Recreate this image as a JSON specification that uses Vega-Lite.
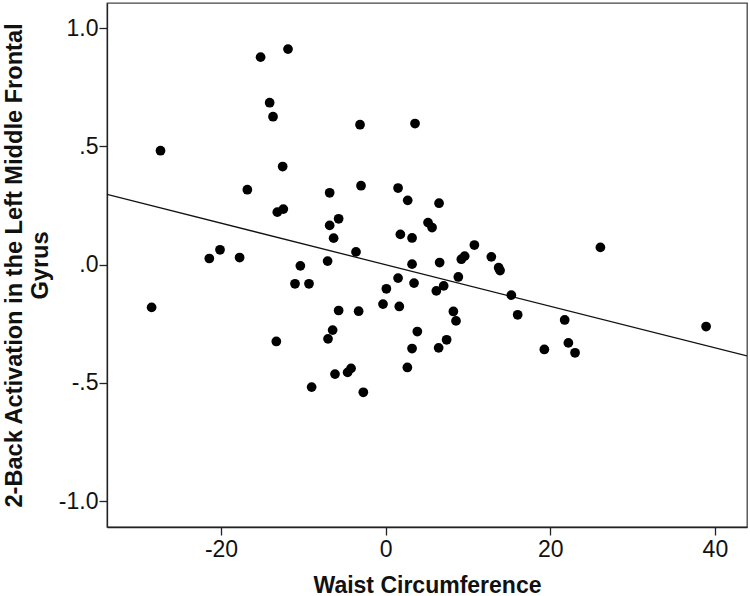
{
  "$schema": "https://vega.github.io/schema/vega-lite/v6.json",
  "autosize": {"type": "none"},
  "width": 640,
  "height": 524,
  "padding": {"left": 107, "top": 3, "right": 3, "bottom": 69},
  "background": "white",
  "config": {
    "view": {"stroke": "#444", "strokeWidth": 1.3},
    "font": "Liberation Sans",
    "axis": {
      "grid": false,
      "domainColor": "#222",
      "domainWidth": 1.3,
      "tickColor": "#222",
      "tickWidth": 1.3,
      "tickSize": 8,
      "labelColor": "#111",
      "labelFont": "Liberation Sans",
      "labelFontSize": 23,
      "titleFont": "Liberation Sans",
      "titleFontSize": 23,
      "titleFontWeight": "bold",
      "titleColor": "#111"
    }
  },
  "datasets": {
    "points": [
      {"waist": -27.35, "activation": 0.482},
      {"waist": -15.19, "activation": 0.878},
      {"waist": -11.86, "activation": 0.912},
      {"waist": -14.09, "activation": 0.685},
      {"waist": -13.68, "activation": 0.626},
      {"waist": -3.11, "activation": 0.592},
      {"waist": 3.57, "activation": 0.597},
      {"waist": -12.51, "activation": 0.415},
      {"waist": -16.80, "activation": 0.317},
      {"waist": -6.80, "activation": 0.304},
      {"waist": -2.99, "activation": 0.334},
      {"waist": 1.51, "activation": 0.324},
      {"waist": 2.68, "activation": 0.272},
      {"waist": -13.16, "activation": 0.222},
      {"waist": -12.43, "activation": 0.235},
      {"waist": -6.80, "activation": 0.166},
      {"waist": -5.71, "activation": 0.194},
      {"waist": -6.32, "activation": 0.112},
      {"waist": 1.79, "activation": 0.128},
      {"waist": 3.21, "activation": 0.113},
      {"waist": 5.15, "activation": 0.178},
      {"waist": 5.64, "activation": 0.157},
      {"waist": 6.49, "activation": 0.260},
      {"waist": 10.78, "activation": 0.083},
      {"waist": 26.09, "activation": 0.073},
      {"waist": 3.21, "activation": 0.002},
      {"waist": 6.56, "activation": 0.009},
      {"waist": 9.20, "activation": 0.023},
      {"waist": 9.60, "activation": 0.036},
      {"waist": 12.84, "activation": 0.033},
      {"waist": 13.73, "activation": -0.013},
      {"waist": 13.90, "activation": -0.025},
      {"waist": -20.12, "activation": 0.063},
      {"waist": -21.42, "activation": 0.026},
      {"waist": -17.74, "activation": 0.030},
      {"waist": -10.36, "activation": -0.005},
      {"waist": -7.05, "activation": 0.015},
      {"waist": -3.60, "activation": 0.054},
      {"waist": -28.43, "activation": -0.181},
      {"waist": -11.01, "activation": -0.081},
      {"waist": -9.31, "activation": -0.081},
      {"waist": 1.51, "activation": -0.057},
      {"waist": 3.45, "activation": -0.078},
      {"waist": 0.09, "activation": -0.102},
      {"waist": -0.32, "activation": -0.167},
      {"waist": 1.66, "activation": -0.177},
      {"waist": -5.71, "activation": -0.194},
      {"waist": -3.28, "activation": -0.197},
      {"waist": -6.44, "activation": -0.277},
      {"waist": -7.00, "activation": -0.314},
      {"waist": 3.85, "activation": -0.283},
      {"waist": 3.21, "activation": -0.355},
      {"waist": -13.28, "activation": -0.325},
      {"waist": -6.15, "activation": -0.463},
      {"waist": -4.62, "activation": -0.456},
      {"waist": -4.20, "activation": -0.439},
      {"waist": 2.64, "activation": -0.435},
      {"waist": -8.99, "activation": -0.518},
      {"waist": -2.71, "activation": -0.540},
      {"waist": 6.16, "activation": -0.111},
      {"waist": 7.05, "activation": -0.090},
      {"waist": 8.83, "activation": -0.052},
      {"waist": 15.27, "activation": -0.129},
      {"waist": 16.04, "activation": -0.212},
      {"waist": 8.23, "activation": -0.198},
      {"waist": 8.55, "activation": -0.238},
      {"waist": 21.75, "activation": -0.234},
      {"waist": 38.93, "activation": -0.262},
      {"waist": 7.41, "activation": -0.318},
      {"waist": 6.44, "activation": -0.352},
      {"waist": 19.28, "activation": -0.359},
      {"waist": 22.20, "activation": -0.331},
      {"waist": 23.01, "activation": -0.373}
    ],
    "fit": [
      {"waist": -33.85, "activation": 0.297},
      {"waist": 43.9, "activation": -0.386}
    ]
  },
  "layer": [
    {
      "data": {"name": "fit"},
      "mark": {"type": "line", "color": "#111", "strokeWidth": 1.3, "clip": true},
      "encoding": {
        "x": {"field": "waist", "type": "quantitative"},
        "y": {"field": "activation", "type": "quantitative"}
      }
    },
    {
      "data": {"name": "points"},
      "mark": {"type": "circle", "color": "#000", "opacity": 1, "size": 95},
      "encoding": {
        "x": {
          "field": "waist",
          "type": "quantitative",
          "scale": {"domain": [-33.85, 43.9], "nice": false, "zero": false},
          "axis": {
            "values": [-20, 0, 20, 40],
            "labelExpr": "'' + datum.value",
            "labelPadding": 3,
            "title": "Waist Circumference",
            "titleY": 65,
            "titleBaseline": "alphabetic"
          }
        },
        "y": {
          "field": "activation",
          "type": "quantitative",
          "scale": {"domain": [-1.11, 1.107], "nice": false, "zero": false},
          "axis": {
            "values": [-1, -0.5, 0, 0.5, 1],
            "labelExpr": "datum.value == 0 ? '.0' : datum.value == 0.5 ? '.5' : datum.value == -0.5 ? '-.5' : datum.value == 1 ? '1.0' : '-1.0'",
            "labelPadding": 1,
            "title": ["2-Back Activation in the Left Middle Frontal", "Gyrus"],
            "titleFontSize": 23.6,
            "titleX": -86,
            "titleBaseline": "alphabetic",
            "titleLineHeight": 26
          }
        }
      }
    }
  ]
}
